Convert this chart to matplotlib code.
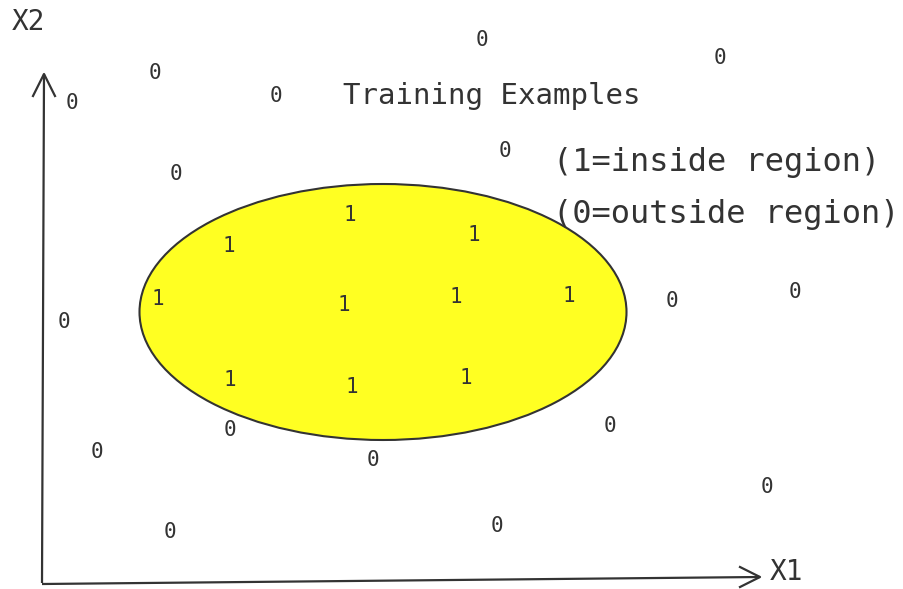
import matplotlib.pyplot as plt
from matplotlib.patches import Ellipse

# positions of the training examples (picture pixels, y going down)
zero_x = [482, 720, 155, 72, 276, 505, 176, 64, 672, 795, 230, 610, 97, 373, 767, 170, 497]
zero_y = [40, 58, 73, 103, 96, 151, 174, 322, 301, 292, 430, 426, 452, 460, 487, 532, 526]
one_x = [350, 229, 474, 158, 344, 456, 569, 230, 352, 466]
one_y = [215, 246, 235, 299, 305, 297, 296, 380, 387, 378]

# the "inside" region
region_center = (383, 312)
region_width = 487
region_height = 256

# axes of the sketch
yaxis_x = [42, 44]
yaxis_y = [583, 74]
xaxis_x = [42, 760]
xaxis_y = [584, 577]

title = 'Training Examples'
legend_lines = ['(1=inside region)', '(0=outside region)']

ink = '#333333'
mono = 'DejaVu Sans Mono'

fig = plt.figure(figsize=(9.04, 5.89), dpi=100)
ax = fig.add_axes([0, 0, 1, 1])
ax.set_xlim(0, 904)
ax.set_ylim(589, 0)
ax.axis('off')

ax.add_patch(Ellipse(region_center, region_width, region_height,
                     facecolor='#ffff22', edgecolor='#333333', linewidth=1.5, zorder=1))

# axis lines with open arrow heads
ax.plot(yaxis_x, yaxis_y, color=ink, linewidth=1.6, solid_capstyle='butt')
ax.plot([yaxis_x[1] - 11, yaxis_x[1], yaxis_x[1] + 11],
        [yaxis_y[1] + 22, yaxis_y[1], yaxis_y[1] + 22], color=ink, linewidth=1.6)
ax.plot(xaxis_x, xaxis_y, color=ink, linewidth=1.6, solid_capstyle='butt')
ax.plot([xaxis_x[1] - 20, xaxis_x[1], xaxis_x[1] - 20],
        [xaxis_y[1] - 10, xaxis_y[1], xaxis_y[1] + 10], color=ink, linewidth=1.6)

ax.text(12, 22, 'X2', fontsize=20, family=mono, color=ink, va='center', ha='left')
ax.text(770, 572, 'X1', fontsize=20, family=mono, color=ink, va='center', ha='left')

for x, y in zip(zero_x, zero_y):
    ax.text(x, y, '0', fontsize=15, family=mono, color=ink, ha='center', va='center', zorder=3)
for x, y in zip(one_x, one_y):
    ax.text(x, y, '1', fontsize=15, family=mono, color=ink, ha='center', va='center', zorder=3)

ax.text(343, 96, title, fontsize=21, family=mono, color=ink, ha='left', va='center')
ax.text(553, 163, legend_lines[0], fontsize=23, family=mono, color=ink, ha='left', va='center')
ax.text(553, 214, legend_lines[1], fontsize=23, family=mono, color=ink, ha='left', va='center')

fig.savefig('out.png', dpi=100)
